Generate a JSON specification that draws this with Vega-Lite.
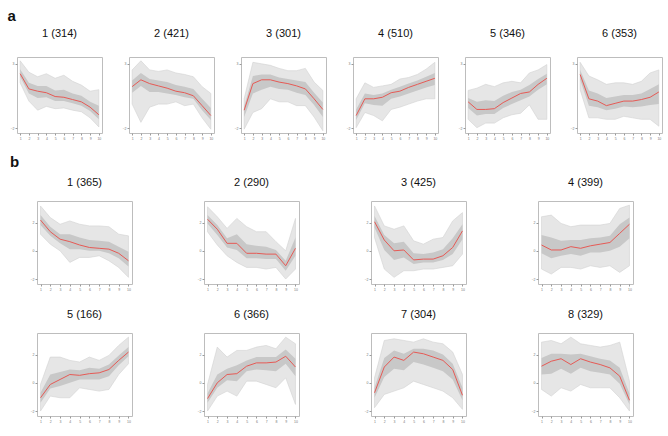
{
"$schema": "https://vega.github.io/schema/vega-lite/v6.json",
"background": "white",
"padding": {"left": 6, "top": 8, "right": 4, "bottom": 4},
"config": {
  "font": "Liberation Sans",
  "view": {"stroke": "#bdbdbd", "strokeWidth": 1},
  "axis": {"domain": false, "grid": false, "tickSize": 2, "tickColor": "#9a9a9a", "labelFontSize": 3.5, "labelColor": "#777777", "labelPadding": 1},
  "header": {"labelFontSize": 11, "labelFont": "Liberation Sans", "labelColor": "#111111", "title": null, "labelPadding": 13},
  "title": {"anchor": "start", "fontSize": 15, "fontWeight": "bold", "font": "Liberation Sans", "color": "#111111"}
},
"datasets": {
"a": [
{"c":"1 (314)","x":1,"lo":66,"q1":74,"m":78,"q3":84,"hi":95},
{"c":"1 (314)","x":2,"lo":42,"q1":52,"m":58,"q3":66,"hi":80},
{"c":"1 (314)","x":3,"lo":30,"q1":46,"m":55,"q3":62,"hi":74},
{"c":"1 (314)","x":4,"lo":35,"q1":47,"m":53,"q3":62,"hi":78},
{"c":"1 (314)","x":5,"lo":32,"q1":42,"m":48,"q3":56,"hi":72},
{"c":"1 (314)","x":6,"lo":33,"q1":42,"m":47,"q3":57,"hi":76},
{"c":"1 (314)","x":7,"lo":30,"q1":39,"m":44,"q3":52,"hi":68},
{"c":"1 (314)","x":8,"lo":28,"q1":36,"m":41,"q3":49,"hi":63},
{"c":"1 (314)","x":9,"lo":20,"q1":29,"m":34,"q3":41,"hi":55},
{"c":"1 (314)","x":10,"lo":8,"q1":18,"m":24,"q3":36,"hi":57},
{"c":"2 (421)","x":1,"lo":38,"q1":53,"m":61,"q3":69,"hi":83},
{"c":"2 (421)","x":2,"lo":14,"q1":62,"m":70,"q3":79,"hi":95},
{"c":"2 (421)","x":3,"lo":34,"q1":54,"m":65,"q3":71,"hi":83},
{"c":"2 (421)","x":4,"lo":38,"q1":54,"m":62,"q3":69,"hi":81},
{"c":"2 (421)","x":5,"lo":38,"q1":52,"m":59,"q3":67,"hi":83},
{"c":"2 (421)","x":6,"lo":41,"q1":50,"m":55,"q3":63,"hi":79},
{"c":"2 (421)","x":7,"lo":36,"q1":47,"m":53,"q3":61,"hi":77},
{"c":"2 (421)","x":8,"lo":38,"q1":45,"m":49,"q3":58,"hi":74},
{"c":"2 (421)","x":9,"lo":20,"q1":30,"m":36,"q3":45,"hi":61},
{"c":"2 (421)","x":10,"lo":5,"q1":17,"m":23,"q3":33,"hi":52},
{"c":"3 (301)","x":1,"lo":5,"q1":21,"m":30,"q3":35,"hi":45},
{"c":"3 (301)","x":2,"lo":27,"q1":52,"m":65,"q3":75,"hi":93},
{"c":"3 (301)","x":3,"lo":32,"q1":57,"m":70,"q3":77,"hi":91},
{"c":"3 (301)","x":4,"lo":45,"q1":61,"m":70,"q3":77,"hi":89},
{"c":"3 (301)","x":5,"lo":41,"q1":58,"m":67,"q3":73,"hi":85},
{"c":"3 (301)","x":6,"lo":41,"q1":57,"m":65,"q3":71,"hi":82},
{"c":"3 (301)","x":7,"lo":36,"q1":53,"m":62,"q3":69,"hi":82},
{"c":"3 (301)","x":8,"lo":36,"q1":50,"m":58,"q3":67,"hi":85},
{"c":"3 (301)","x":9,"lo":21,"q1":37,"m":45,"q3":53,"hi":67},
{"c":"3 (301)","x":10,"lo":3,"q1":21,"m":31,"q3":40,"hi":56},
{"c":"4 (510)","x":1,"lo":7,"q1":17,"m":23,"q3":31,"hi":45},
{"c":"4 (510)","x":2,"lo":27,"q1":39,"m":45,"q3":52,"hi":66},
{"c":"4 (510)","x":3,"lo":23,"q1":37,"m":45,"q3":50,"hi":60},
{"c":"4 (510)","x":4,"lo":16,"q1":36,"m":47,"q3":52,"hi":62},
{"c":"4 (510)","x":5,"lo":31,"q1":45,"m":53,"q3":57,"hi":64},
{"c":"4 (510)","x":6,"lo":34,"q1":48,"m":55,"q3":61,"hi":71},
{"c":"4 (510)","x":7,"lo":38,"q1":52,"m":60,"q3":65,"hi":73},
{"c":"4 (510)","x":8,"lo":42,"q1":56,"m":64,"q3":69,"hi":77},
{"c":"4 (510)","x":9,"lo":45,"q1":60,"m":68,"q3":74,"hi":84},
{"c":"4 (510)","x":10,"lo":45,"q1":63,"m":72,"q3":79,"hi":93},
{"c":"5 (346)","x":1,"lo":18,"q1":33,"m":41,"q3":46,"hi":56},
{"c":"5 (346)","x":2,"lo":7,"q1":23,"m":31,"q3":41,"hi":59},
{"c":"5 (346)","x":3,"lo":13,"q1":25,"m":31,"q3":43,"hi":64},
{"c":"5 (346)","x":4,"lo":13,"q1":25,"m":32,"q3":42,"hi":61},
{"c":"5 (346)","x":5,"lo":20,"q1":33,"m":40,"q3":49,"hi":66},
{"c":"5 (346)","x":6,"lo":24,"q1":38,"m":46,"q3":54,"hi":68},
{"c":"5 (346)","x":7,"lo":26,"q1":43,"m":52,"q3":57,"hi":66},
{"c":"5 (346)","x":8,"lo":37,"q1":48,"m":54,"q3":63,"hi":79},
{"c":"5 (346)","x":9,"lo":18,"q1":57,"m":64,"q3":71,"hi":83},
{"c":"5 (346)","x":10,"lo":18,"q1":64,"m":72,"q3":78,"hi":90},
{"c":"6 (353)","x":1,"lo":57,"q1":70,"m":77,"q3":83,"hi":93},
{"c":"6 (353)","x":2,"lo":20,"q1":36,"m":45,"q3":56,"hi":75},
{"c":"6 (353)","x":3,"lo":20,"q1":34,"m":42,"q3":52,"hi":70},
{"c":"6 (353)","x":4,"lo":18,"q1":30,"m":36,"q3":46,"hi":64},
{"c":"6 (353)","x":5,"lo":18,"q1":32,"m":39,"q3":48,"hi":66},
{"c":"6 (353)","x":6,"lo":22,"q1":35,"m":42,"q3":50,"hi":66},
{"c":"6 (353)","x":7,"lo":20,"q1":34,"m":42,"q3":50,"hi":64},
{"c":"6 (353)","x":8,"lo":18,"q1":35,"m":44,"q3":52,"hi":68},
{"c":"6 (353)","x":9,"lo":18,"q1":37,"m":47,"q3":58,"hi":79},
{"c":"6 (353)","x":10,"lo":9,"q1":38,"m":54,"q3":64,"hi":83}
],
"b": [
{"c":"1 (365)","x":1,"lo":60,"q1":71,"m":77,"q3":83,"hi":94},
{"c":"1 (365)","x":2,"lo":48,"q1":58,"m":63,"q3":69,"hi":80},
{"c":"1 (365)","x":3,"lo":40,"q1":49,"m":54,"q3":60,"hi":72},
{"c":"1 (365)","x":4,"lo":26,"q1":42,"m":51,"q3":60,"hi":76},
{"c":"1 (365)","x":5,"lo":32,"q1":42,"m":47,"q3":56,"hi":72},
{"c":"1 (365)","x":6,"lo":32,"q1":40,"m":44,"q3":53,"hi":70},
{"c":"1 (365)","x":7,"lo":34,"q1":40,"m":43,"q3":52,"hi":70},
{"c":"1 (365)","x":8,"lo":28,"q1":37,"m":42,"q3":51,"hi":69},
{"c":"1 (365)","x":9,"lo":20,"q1":31,"m":37,"q3":45,"hi":60},
{"c":"1 (365)","x":10,"lo":8,"q1":21,"m":28,"q3":39,"hi":58},
{"c":"2 (290)","x":1,"lo":63,"q1":73,"m":78,"q3":83,"hi":93},
{"c":"2 (290)","x":2,"lo":47,"q1":59,"m":66,"q3":71,"hi":81},
{"c":"2 (290)","x":3,"lo":34,"q1":44,"m":49,"q3":55,"hi":67},
{"c":"2 (290)","x":4,"lo":26,"q1":41,"m":49,"q3":60,"hi":79},
{"c":"2 (290)","x":5,"lo":20,"q1":31,"m":37,"q3":48,"hi":69},
{"c":"2 (290)","x":6,"lo":20,"q1":31,"m":37,"q3":46,"hi":63},
{"c":"2 (290)","x":7,"lo":18,"q1":30,"m":36,"q3":45,"hi":63},
{"c":"2 (290)","x":8,"lo":20,"q1":30,"m":36,"q3":41,"hi":51},
{"c":"2 (290)","x":9,"lo":6,"q1":16,"m":22,"q3":28,"hi":40},
{"c":"2 (290)","x":10,"lo":18,"q1":34,"m":43,"q3":56,"hi":79},
{"c":"3 (425)","x":1,"lo":56,"q1":68,"m":75,"q3":82,"hi":94},
{"c":"3 (425)","x":2,"lo":18,"q1":41,"m":53,"q3":59,"hi":70},
{"c":"3 (425)","x":3,"lo":8,"q1":29,"m":40,"q3":49,"hi":66},
{"c":"3 (425)","x":4,"lo":16,"q1":32,"m":41,"q3":51,"hi":70},
{"c":"3 (425)","x":5,"lo":16,"q1":24,"m":29,"q3":37,"hi":52},
{"c":"3 (425)","x":6,"lo":18,"q1":26,"m":30,"q3":36,"hi":48},
{"c":"3 (425)","x":7,"lo":18,"q1":26,"m":30,"q3":38,"hi":54},
{"c":"3 (425)","x":8,"lo":20,"q1":29,"m":34,"q3":42,"hi":56},
{"c":"3 (425)","x":9,"lo":22,"q1":36,"m":44,"q3":55,"hi":76},
{"c":"3 (425)","x":10,"lo":36,"q1":54,"m":64,"q3":72,"hi":86},
{"c":"4 (399)","x":1,"lo":18,"q1":37,"m":47,"q3":59,"hi":81},
{"c":"4 (399)","x":2,"lo":12,"q1":31,"m":41,"q3":56,"hi":83},
{"c":"4 (399)","x":3,"lo":20,"q1":34,"m":41,"q3":52,"hi":73},
{"c":"4 (399)","x":4,"lo":20,"q1":36,"m":45,"q3":53,"hi":69},
{"c":"4 (399)","x":5,"lo":18,"q1":34,"m":43,"q3":53,"hi":71},
{"c":"4 (399)","x":6,"lo":22,"q1":38,"m":46,"q3":55,"hi":71},
{"c":"4 (399)","x":7,"lo":20,"q1":38,"m":48,"q3":56,"hi":71},
{"c":"4 (399)","x":8,"lo":22,"q1":40,"m":50,"q3":58,"hi":73},
{"c":"4 (399)","x":9,"lo":14,"q1":45,"m":61,"q3":72,"hi":91},
{"c":"4 (399)","x":10,"lo":22,"q1":55,"m":72,"q3":80,"hi":95},
{"c":"5 (166)","x":1,"lo":6,"q1":16,"m":22,"q3":28,"hi":38},
{"c":"5 (166)","x":2,"lo":24,"q1":33,"m":38,"q3":50,"hi":71},
{"c":"5 (166)","x":3,"lo":22,"q1":36,"m":44,"q3":53,"hi":71},
{"c":"5 (166)","x":4,"lo":22,"q1":40,"m":50,"q3":56,"hi":67},
{"c":"5 (166)","x":5,"lo":34,"q1":44,"m":49,"q3":55,"hi":65},
{"c":"5 (166)","x":6,"lo":32,"q1":44,"m":51,"q3":58,"hi":71},
{"c":"5 (166)","x":7,"lo":30,"q1":44,"m":52,"q3":57,"hi":67},
{"c":"5 (166)","x":8,"lo":32,"q1":48,"m":56,"q3":62,"hi":73},
{"c":"5 (166)","x":9,"lo":50,"q1":61,"m":67,"q3":73,"hi":85},
{"c":"5 (166)","x":10,"lo":63,"q1":72,"m":77,"q3":83,"hi":95},
{"c":"6 (366)","x":1,"lo":6,"q1":16,"m":21,"q3":27,"hi":38},
{"c":"6 (366)","x":2,"lo":24,"q1":34,"m":40,"q3":50,"hi":83},
{"c":"6 (366)","x":3,"lo":30,"q1":43,"m":50,"q3":57,"hi":71},
{"c":"6 (366)","x":4,"lo":24,"q1":42,"m":51,"q3":61,"hi":79},
{"c":"6 (366)","x":5,"lo":42,"q1":54,"m":60,"q3":67,"hi":79},
{"c":"6 (366)","x":6,"lo":42,"q1":56,"m":64,"q3":71,"hi":83},
{"c":"6 (366)","x":7,"lo":38,"q1":55,"m":64,"q3":71,"hi":85},
{"c":"6 (366)","x":8,"lo":34,"q1":54,"m":65,"q3":71,"hi":81},
{"c":"6 (366)","x":9,"lo":46,"q1":63,"m":72,"q3":80,"hi":95},
{"c":"6 (366)","x":10,"lo":14,"q1":48,"m":59,"q3":69,"hi":87},
{"c":"7 (304)","x":1,"lo":10,"q1":22,"m":28,"q3":34,"hi":46},
{"c":"7 (304)","x":2,"lo":26,"q1":47,"m":59,"q3":70,"hi":91},
{"c":"7 (304)","x":3,"lo":30,"q1":57,"m":71,"q3":79,"hi":93},
{"c":"7 (304)","x":4,"lo":34,"q1":55,"m":67,"q3":75,"hi":91},
{"c":"7 (304)","x":5,"lo":42,"q1":65,"m":77,"q3":81,"hi":89},
{"c":"7 (304)","x":6,"lo":38,"q1":62,"m":75,"q3":81,"hi":93},
{"c":"7 (304)","x":7,"lo":34,"q1":58,"m":71,"q3":79,"hi":89},
{"c":"7 (304)","x":8,"lo":30,"q1":54,"m":67,"q3":74,"hi":87},
{"c":"7 (304)","x":9,"lo":22,"q1":44,"m":56,"q3":63,"hi":77},
{"c":"7 (304)","x":10,"lo":8,"q1":19,"m":25,"q3":34,"hi":50},
{"c":"8 (329)","x":1,"lo":32,"q1":50,"m":60,"q3":70,"hi":89},
{"c":"8 (329)","x":2,"lo":24,"q1":51,"m":66,"q3":75,"hi":91},
{"c":"8 (329)","x":3,"lo":34,"q1":57,"m":69,"q3":75,"hi":87},
{"c":"8 (329)","x":4,"lo":30,"q1":51,"m":62,"q3":74,"hi":95},
{"c":"8 (329)","x":5,"lo":38,"q1":58,"m":69,"q3":75,"hi":87},
{"c":"8 (329)","x":6,"lo":34,"q1":54,"m":65,"q3":72,"hi":85},
{"c":"8 (329)","x":7,"lo":34,"q1":52,"m":62,"q3":69,"hi":83},
{"c":"8 (329)","x":8,"lo":34,"q1":50,"m":58,"q3":67,"hi":85},
{"c":"8 (329)","x":9,"lo":22,"q1":39,"m":48,"q3":58,"hi":89},
{"c":"8 (329)","x":10,"lo":6,"q1":14,"m":19,"q3":27,"hi":42}
]
},
"vconcat": [
{
  "title": {"text": "a", "dx": 1},
  "data": {"name": "a"},
  "facet": {"field": "c", "type": "nominal", "header": {"labelPadding": 18}},
  "columns": 6,
  "spacing": 15,
  "resolve": {"axis": {"x": "independent", "y": "independent"}},
  "spec": {
    "width": 85, "height": 76,
    "encoding": {"x": {"field": "x", "type": "quantitative", "title": null, "scale": {"domain": [0.64, 10.36], "nice": false, "zero": false}, "axis": {"values": [1,2,3,4,5,6,7,8,9,10], "minExtent": 6, "maxExtent": 6}}},
    "layer": [
      {"mark": {"type": "area", "color": "#e6e6e6", "stroke": "#d2d2d2", "strokeWidth": 0.6}, "encoding": {"y": {"field": "lo", "type": "quantitative", "title": null, "scale": {"domain": [0, 100], "nice": false}, "axis": {"values": [6, 23, 40, 57, 74, 91], "labelExpr": "format((datum.value-40)/17, 'd')", "minExtent": 10, "maxExtent": 10}}, "y2": {"field": "hi"}}},
      {"mark": {"type": "area", "color": "#c8c8c8"}, "encoding": {"y": {"field": "q1", "type": "quantitative", "title": null}, "y2": {"field": "q3"}}},
      {"mark": {"type": "line", "color": "#e65a55", "strokeWidth": 1}, "encoding": {"y": {"field": "m", "type": "quantitative", "title": null}}}
    ]
  }
},
{
  "title": {"text": "b", "dx": -7, "offset": 7},
  "spacing": 0,
  "hconcat": [
    {"width": 9, "height": 1, "data": {"values": []}, "mark": "point", "view": {"stroke": null}},
    {
      "data": {"name": "b"},
      "facet": {"field": "c", "type": "nominal"},
      "columns": 4,
      "spacing": {"column": 60, "row": 17},
      "resolve": {"axis": {"x": "independent", "y": "independent"}},
      "spec": {
        "width": 95, "height": 83,
        "encoding": {"x": {"field": "x", "type": "quantitative", "title": null, "scale": {"domain": [0.64, 10.36], "nice": false, "zero": false}, "axis": {"values": [1,2,3,4,5,6,7,8,9,10], "minExtent": 6, "maxExtent": 6}}},
        "layer": [
          {"mark": {"type": "area", "color": "#e6e6e6", "stroke": "#d2d2d2", "strokeWidth": 0.6}, "encoding": {"y": {"field": "lo", "type": "quantitative", "title": null, "scale": {"domain": [0, 100], "nice": false}, "axis": {"values": [6, 23, 40, 57, 74, 91], "labelExpr": "format((datum.value-40)/17, 'd')", "minExtent": 10, "maxExtent": 10}}, "y2": {"field": "hi"}}},
          {"mark": {"type": "area", "color": "#c8c8c8"}, "encoding": {"y": {"field": "q1", "type": "quantitative", "title": null}, "y2": {"field": "q3"}}},
          {"mark": {"type": "line", "color": "#e65a55", "strokeWidth": 1}, "encoding": {"y": {"field": "m", "type": "quantitative", "title": null}}}
        ]
      }
    }
  ]
}
],
"spacing": 14
}
